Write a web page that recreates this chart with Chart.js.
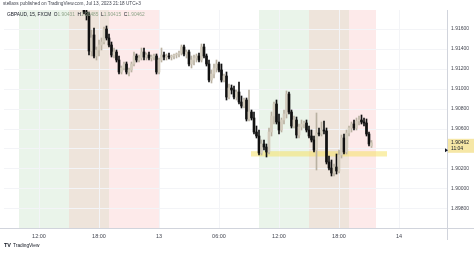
<!DOCTYPE html>
<html>
<head>
<meta charset="utf-8">
<script src="https://cdn.jsdelivr.net/npm/chart.js@4.4.0/dist/chart.umd.min.js"></script>
<style>
    html, body { margin: 0; padding: 0; background: #fff; }
    #wrap { position: relative; width: 474px; height: 253px; overflow: hidden; font-family: "Liberation Sans", Arial, sans-serif; }
    canvas { position: absolute; left: 0; top: 0; }
    .txt { position: absolute; white-space: nowrap; color: #434651; line-height: 1; }
    #titulo { left: 3px; top: 2px; font-size: 4.7px; }
    #leyenda { left: 7px; top: 13px; font-size: 4.8px; color: #131722; }
    #leyenda span { color: #8fa58a; }
    #marca { left: 4px; top: 243px; font-size: 4.8px; color: #131722; }
    #marca b { font-size: 5.5px; margin-right: 2px; }
</style>
</head>
<body>
<div id="wrap">
    <canvas id="grafica" width="474" height="253"></canvas>
    <div class="txt" id="titulo">stellaxs published on TradingView.com, Jul 13, 2023 21:18 UTC+3</div>
    <div class="txt" id="leyenda">GBPAUD, 15, FXCM&nbsp; O<span>1.90431</span>&nbsp; H<span>1.90485</span>&nbsp; L<span>1.90415</span>&nbsp; C<span>1.90462</span></div>
    <div class="txt" id="marca"><b>TV</b>TradingView</div>
</div>
<script>
// === Datos (velas de 15 min, GBPAUD) ===
// primera vela: 12 jul 16:30 (horas contadas desde el 12 jul 00:00)
const inicioHoras = 16.5;
const pasoHoras = 0.25;

const aperturas = [
    1.9187, 1.9177, 1.9174, 1.9138, 1.9154, 1.9133, 1.9139, 1.9144, 1.9147, 1.9160,
    1.9151, 1.9144, 1.9134, 1.9137, 1.9129, 1.9117, 1.9121, 1.9125, 1.9117, 1.9119,
    1.9125, 1.9133, 1.9129, 1.9131, 1.9137, 1.9132, 1.9134, 1.9131, 1.9132, 1.9133,
    1.9117, 1.9129, 1.9134, 1.9132, 1.9133, 1.9132, 1.9133, 1.9134, 1.9135, 1.9136,
    1.9142, 1.9135, 1.9137, 1.9125, 1.9129, 1.9131, 1.9133, 1.9129, 1.9142, 1.9133,
    1.9125, 1.9109, 1.9115, 1.9121, 1.9125, 1.9119, 1.9109, 1.9113, 1.9092, 1.9101,
    1.9099, 1.9092, 1.9097, 1.9087, 1.9083, 1.9089, 1.9070, 1.9077, 1.9071, 1.9057,
    1.9053, 1.9036, 1.9045, 1.9042, 1.9037, 1.9057, 1.9073, 1.9085, 1.9067, 1.9059,
    1.9069, 1.9075, 1.9095, 1.9077, 1.9063, 1.9069, 1.9054, 1.9062, 1.9065, 1.9066,
    1.9059, 1.9053, 1.9049, 1.9039, 1.9056, 1.9055, 1.9059, 1.9058, 1.9027, 1.9021,
    1.9016, 1.9022, 1.9018, 1.9034, 1.9051, 1.9037, 1.9056, 1.9061, 1.9065, 1.9061,
    1.9068, 1.9069, 1.9067, 1.9066, 1.9055, 1.90431,
];
const maximos = [
    1.9189, 1.9184, 1.9177, 1.9159, 1.9161, 1.9142, 1.9149, 1.9151, 1.9162, 1.9163,
    1.9155, 1.9147, 1.9141, 1.9139, 1.9133, 1.9123, 1.9127, 1.9127, 1.9121, 1.9127,
    1.9137, 1.9135, 1.9134, 1.9141, 1.9141, 1.9136, 1.9137, 1.9134, 1.9135, 1.9135,
    1.9131, 1.9141, 1.9137, 1.9135, 1.9136, 1.9134, 1.9135, 1.9136, 1.9138, 1.9144,
    1.9144, 1.9139, 1.9139, 1.9133, 1.9134, 1.9135, 1.9136, 1.9145, 1.9145, 1.9135,
    1.9129, 1.9119, 1.9125, 1.9129, 1.9127, 1.9125, 1.9115, 1.9117, 1.9105, 1.9104,
    1.9103, 1.9099, 1.9107, 1.9093, 1.9091, 1.9091, 1.9099, 1.9079, 1.9077, 1.9063,
    1.9059, 1.9049, 1.9049, 1.9045, 1.9061, 1.9077, 1.9087, 1.9089, 1.9075, 1.9071,
    1.9079, 1.9098, 1.9097, 1.9079, 1.9073, 1.9072, 1.9065, 1.9069, 1.9068, 1.9069,
    1.9063, 1.9059, 1.9053, 1.9076, 1.9061, 1.9067, 1.9068, 1.9061, 1.9033, 1.9029,
    1.9025, 1.9035, 1.9039, 1.9054, 1.9055, 1.9059, 1.9063, 1.9067, 1.9069, 1.9071,
    1.9073, 1.9074, 1.9071, 1.9070, 1.9057, 1.90485,
];
const minimos = [
    1.9175, 1.9169, 1.9134, 1.9133, 1.9131, 1.9129, 1.9133, 1.9139, 1.9145, 1.9149,
    1.9142, 1.9132, 1.9131, 1.9127, 1.9115, 1.9115, 1.9119, 1.9115, 1.9113, 1.9117,
    1.9123, 1.9127, 1.9127, 1.9129, 1.9129, 1.9129, 1.9129, 1.9128, 1.9129, 1.9115,
    1.9115, 1.9127, 1.9129, 1.9129, 1.9130, 1.9129, 1.9130, 1.9131, 1.9132, 1.9134,
    1.9133, 1.9131, 1.9123, 1.9121, 1.9124, 1.9127, 1.9127, 1.9127, 1.9131, 1.9123,
    1.9107, 1.9106, 1.9111, 1.9117, 1.9117, 1.9107, 1.9107, 1.9089, 1.9090, 1.9095,
    1.9090, 1.9089, 1.9085, 1.9081, 1.9081, 1.9068, 1.9068, 1.9069, 1.9055, 1.9051,
    1.9034, 1.9034, 1.9039, 1.9032, 1.9035, 1.9053, 1.9065, 1.9065, 1.9055, 1.9057,
    1.9065, 1.9071, 1.9075, 1.9061, 1.9061, 1.9051, 1.9051, 1.9059, 1.9061, 1.9057,
    1.9051, 1.9047, 1.9037, 1.9019, 1.9053, 1.9053, 1.9055, 1.9025, 1.9019, 1.9013,
    1.9013, 1.9015, 1.9016, 1.9031, 1.9035, 1.9035, 1.9053, 1.9057, 1.9059, 1.9059,
    1.9064, 1.9065, 1.9063, 1.9053, 1.9043, 1.90415,
];
const cierres = [
    1.9177, 1.9174, 1.9138, 1.9151, 1.9133, 1.9139, 1.9144, 1.9147, 1.9160, 1.9151,
    1.9144, 1.9134, 1.9137, 1.9129, 1.9117, 1.9121, 1.9125, 1.9117, 1.9119, 1.9125,
    1.9133, 1.9129, 1.9131, 1.9137, 1.9132, 1.9134, 1.9131, 1.9132, 1.9133, 1.9117,
    1.9129, 1.9134, 1.9132, 1.9133, 1.9132, 1.9133, 1.9134, 1.9135, 1.9136, 1.9142,
    1.9135, 1.9137, 1.9125, 1.9129, 1.9131, 1.9133, 1.9129, 1.9142, 1.9133, 1.9125,
    1.9109, 1.9115, 1.9121, 1.9125, 1.9119, 1.9109, 1.9113, 1.9092, 1.9101, 1.9099,
    1.9092, 1.9097, 1.9087, 1.9083, 1.9089, 1.9070, 1.9077, 1.9071, 1.9057, 1.9053,
    1.9036, 1.9045, 1.9042, 1.9037, 1.9057, 1.9073, 1.9085, 1.9067, 1.9059, 1.9069,
    1.9075, 1.9095, 1.9077, 1.9063, 1.9069, 1.9054, 1.9062, 1.9065, 1.9066, 1.9059,
    1.9053, 1.9049, 1.9039, 1.9056, 1.9055, 1.9059, 1.9058, 1.9027, 1.9021, 1.9016,
    1.9022, 1.9018, 1.9034, 1.9051, 1.9037, 1.9056, 1.9061, 1.9065, 1.9061, 1.9068,
    1.9069, 1.9067, 1.9066, 1.9055, 1.9045, 1.90462,
];

// sesiones (horas desde el 12 jul 00:00)
const sesionInicio = [10, 15, 19, 34, 39, 43];
const sesionFin = [15, 19, 24.1, 39, 43, 45.7];
const sesionColor = ["#eaf4ea", "#eee4db", "#fdeaea", "#eaf4ea", "#eee4db", "#fdeaea"];

// zona amarilla
const zonaPrecio = [1.90325, 1.90378];
const zonaHoras = [33.2, 46.8];

// ejes
const ticksX = [12, 18, 24, 30, 36, 42, 48];
const etiquetasX = ["12:00", "18:00", "13", "06:00", "12:00", "18:00", "14"];
const ticksY = [1.898, 1.9, 1.902, 1.904, 1.906, 1.908, 1.91, 1.912, 1.914, 1.916];
const cuentaAtras = "11:04";

const horas = aperturas.map((_, i) => inicioHoras + i * pasoHoras);
const esAlcista = (i) => cierres[i] >= aperturas[i];

const colorSube = "#d3ccbd";
const mechaSube = "#b9b1a1";
const colorBaja = "#111111";

// === Plugin fondos de sesión y zona ===
const fondos = {
    id: "fondos",
    beforeDraw(chart) {
        const { ctx, chartArea, scales } = chart;
        ctx.save();
        ctx.beginPath();
        ctx.rect(chartArea.left, chartArea.top, chartArea.width, chartArea.height);
        ctx.clip();
        sesionInicio.forEach((ini, i) => {
            const x1 = scales.x.getPixelForValue(ini);
            const x2 = scales.x.getPixelForValue(sesionFin[i]);
            ctx.fillStyle = sesionColor[i];
            ctx.fillRect(x1, chartArea.top, x2 - x1, chartArea.height);
        });
        ctx.restore();
    },
    beforeDatasetsDraw(chart) {
        const { ctx, chartArea, scales } = chart;
        const x1 = scales.x.getPixelForValue(zonaHoras[0]);
        const x2 = scales.x.getPixelForValue(zonaHoras[1]);
        const y1 = scales.y.getPixelForValue(zonaPrecio[1]);
        const y2 = scales.y.getPixelForValue(zonaPrecio[0]);
        ctx.save();
        ctx.fillStyle = "rgba(246, 224, 90, 0.5)";
        ctx.fillRect(x1, y1, x2 - x1, y2 - y1);
        ctx.restore();
    },
    afterDraw(chart) {
        const { ctx, chartArea, scales } = chart;
        ctx.save();
        // separadores del panel
        ctx.strokeStyle = "#d1d4dc";
        ctx.lineWidth = 1;
        ctx.beginPath();
        ctx.moveTo(0, chartArea.bottom + 0.5);
        ctx.lineTo(chart.width, chartArea.bottom + 0.5);
        ctx.moveTo(chartArea.right + 0.5, chartArea.top);
        ctx.lineTo(chartArea.right + 0.5, chartArea.bottom + 12);
        ctx.stroke();

        // marcador pequeño de la zona
        const ym = scales.y.getPixelForValue(zonaPrecio[1]) - 1;
        ctx.fillStyle = "#131722";
        ctx.beginPath();
        ctx.moveTo(chartArea.right - 2, ym - 2);
        ctx.lineTo(chartArea.right + 1, ym);
        ctx.lineTo(chartArea.right - 2, ym + 2);
        ctx.fill();

        // etiqueta del último precio
        const ultimo = cierres[cierres.length - 1];
        const yp = scales.y.getPixelForValue(ultimo);
        ctx.fillStyle = "#f6e7a6";
        ctx.fillRect(chartArea.right + 1, yp - 4, 26, 14);
        ctx.fillStyle = "#131722";
        ctx.font = "5px 'Liberation Sans', Arial, sans-serif";
        ctx.textBaseline = "middle";
        ctx.fillText(ultimo.toFixed(5), chartArea.right + 4, yp);
        ctx.fillText(cuentaAtras, chartArea.right + 4, yp + 6);
        ctx.restore();
    },
};

const colorVela = (c) => (esAlcista(c.dataIndex) ? colorSube : colorBaja);
const colorMecha = (c) => (esAlcista(c.dataIndex) ? mechaSube : colorBaja);

const ctx = document.getElementById("grafica").getContext("2d");
new Chart(ctx, {
    type: "bar",
    data: {
        datasets: [
            {
                label: "cuerpo",
                data: horas.map((h, i) => ({ x: h, y: [aperturas[i], cierres[i]] })),
                backgroundColor: colorVela,
                borderWidth: 0,
                barThickness: 2,
                minBarLength: 1,
                grouped: false,
                order: 0,
            },
            {
                label: "mecha",
                data: horas.map((h, i) => ({ x: h, y: [minimos[i], maximos[i]] })),
                backgroundColor: colorMecha,
                borderWidth: 0,
                barThickness: 1,
                grouped: false,
                order: 1,
            },
        ],
    },
    options: {
        responsive: false,
        animation: false,
        layout: { padding: { left: 4, top: 10, right: 0, bottom: 0 } },
        plugins: {
            legend: { display: false },
            tooltip: { enabled: false },
        },
        scales: {
            x: {
                type: "linear",
                min: 8.5,
                max: 52.8,
                offset: false,
                afterBuildTicks: (s) => {
                    s.ticks = ticksX.map((v) => ({ value: v }));
                },
                afterFit: (s) => {
                    s.height = 25;
                },
                grid: { color: "#f3f4f7", drawTicks: false, offset: false },
                border: { display: false },
                ticks: {
                    color: "#434651",
                    font: { size: 5.5, family: "'Liberation Sans', Arial, sans-serif" },
                    padding: 5,
                    maxRotation: 0,
                    autoSkip: false,
                    callback: (v) => etiquetasX[ticksX.indexOf(v)],
                },
            },
            y: {
                position: "right",
                min: 1.8961,
                max: 1.9179,
                afterBuildTicks: (s) => {
                    s.ticks = ticksY.map((v) => ({ value: v }));
                },
                afterFit: (s) => {
                    s.width = 27;
                },
                grid: { color: "#f3f4f7", drawTicks: false },
                border: { display: false },
                ticks: {
                    color: "#434651",
                    font: { size: 5, family: "'Liberation Sans', Arial, sans-serif" },
                    padding: 4,
                    callback: (v) => v.toFixed(5),
                },
            },
        },
    },
    plugins: [fondos],
});
</script>
</body>
</html>
